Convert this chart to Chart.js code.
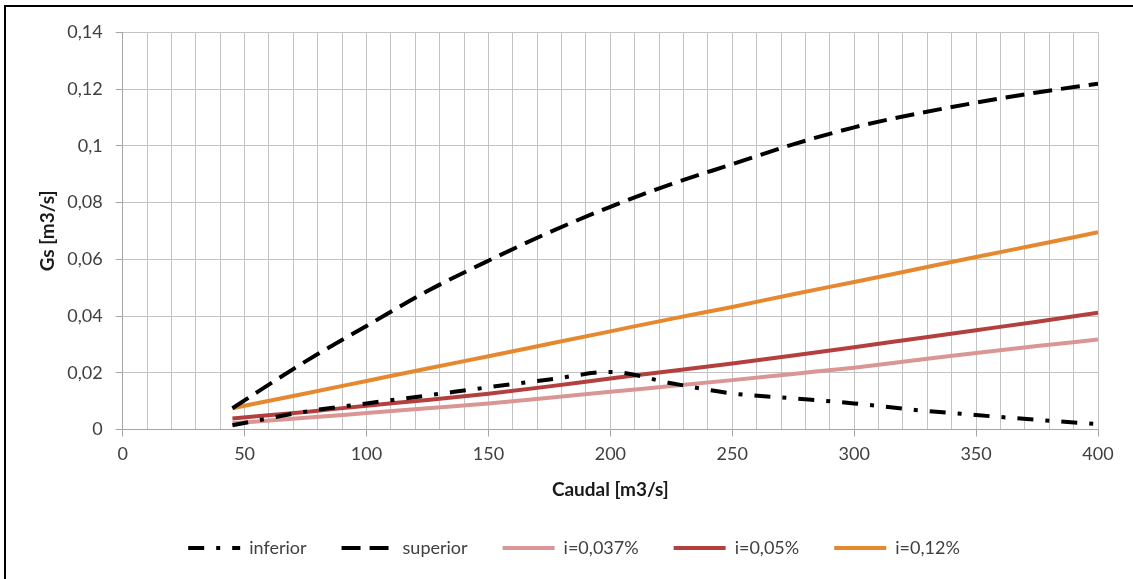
<!DOCTYPE html>
<html>
<head>
<meta charset="utf-8">
<script src="https://cdn.jsdelivr.net/npm/chart.js@4"></script>
<style>
  html, body { margin: 0; padding: 0; background: #fff; overflow: hidden; }
  #frame {
    position: absolute;
    left: 4px;
    top: 5px;
    border: 2px solid #000;
  }
  #gsChart { display: block; }
</style>
</head>
<body>
<div id="frame">
  <canvas id="gsChart" width="1136" height="590" style="width:1136px;height:590px"></canvas>
</div>
<script>
// Caudal [m3/s]
const caudal = [45, 75, 100, 125, 150, 175, 200, 225, 250, 275, 300, 325, 350, 375, 400];

// Gs [m3/s] for each curve
const inferior = [0.0015, 0.0063, 0.0092, 0.0120, 0.0149, 0.0176, 0.0203, 0.0163, 0.0127, 0.0110, 0.0092, 0.0069, 0.0051, 0.0034, 0.0019];
const superior = [0.0075, 0.0240, 0.0365, 0.0488, 0.0595, 0.0695, 0.0785, 0.0865, 0.0935, 0.1005, 0.1065, 0.1112, 0.1152, 0.1188, 0.1219];
const i037 = [0.0022, 0.0041, 0.0058, 0.0075, 0.0092, 0.0112, 0.0133, 0.0153, 0.0174, 0.0196, 0.0218, 0.0244, 0.0270, 0.0294, 0.0317];
const i05 = [0.0039, 0.0062, 0.0084, 0.0104, 0.0126, 0.0152, 0.0180, 0.0206, 0.0233, 0.0261, 0.0290, 0.0320, 0.0350, 0.0380, 0.0412];
const i12 = [0.0075, 0.0127, 0.0171, 0.0215, 0.0258, 0.0302, 0.0346, 0.0390, 0.0432, 0.0477, 0.0520, 0.0564, 0.0608, 0.0651, 0.0695];

const xTicks = { min: 0, max: 400, step: 10, labelEvery: 50 };
const yTicks = { min: 0, max: 0.14, step: 0.02 };

const FONT = "Lato, 'Open Sans', sans-serif";
const GRID = "#c3c3c3";
const AXIS = "#a6a6a6";

function points(values) {
  return values.map((v, i) => ({ x: caudal[i], y: v }));
}

function series(label, values, color, dash) {
  return {
    label: label,
    data: points(values),
    borderColor: color,
    backgroundColor: color,
    borderWidth: 4,
    borderDash: dash,
    borderCapStyle: "butt",
    borderJoinStyle: "round",
    pointRadius: 0,
    pointHoverRadius: 0,
    cubicInterpolationMode: "monotone",
    fill: false,
  };
}

const datasets = [
  series("inferior", inferior, "#000000", [16, 12, 4, 12]),
  series("superior", superior, "#000000", [19, 9]),
  series("i=0,037%", i037, "#d99694", []),
  series("i=0,05%", i05, "#b3403e", []),
  series("i=0,12%", i12, "#e6882f", []),
];

new Chart(document.getElementById("gsChart"), {
  type: "line",
  data: { datasets: datasets },
  options: {
    responsive: false,
    devicePixelRatio: 1,
    animation: false,
    events: [],
    layout: { padding: { top: 25.3, left: 0, right: 0, bottom: 30 } },
    plugins: {
      tooltip: { enabled: false },
      legend: {
        position: "bottom",
        labels: {
          usePointStyle: true,
          pointStyleWidth: 52,
          padding: 35,
          color: "#404040",
          font: { family: FONT, size: 18 },
          generateLabels: (chart) =>
            chart.data.datasets.map((ds, i) => ({
              text: ds.label,
              datasetIndex: i,
              hidden: false,
              fillStyle: ds.borderColor,
              strokeStyle: ds.borderColor,
              lineWidth: 4,
              lineDash: ds.borderDash,
              lineCap: "butt",
              pointStyle: "line",
              fontColor: "#404040",
            })),
        },
      },
    },
    scales: {
      x: {
        type: "linear",
        min: xTicks.min,
        max: xTicks.max,
        afterFit: (scale) => { scale.height = 74.5; },
        border: { color: AXIS, width: 1 },
        grid: {
          color: GRID,
          lineWidth: 1,
          tickLength: 7,
          tickColor: (ctx) => (ctx.tick && ctx.tick.value % xTicks.labelEvery === 0 ? AXIS : "rgba(0,0,0,0)"),
        },
        ticks: {
          stepSize: xTicks.step,
          autoSkip: false,
          maxRotation: 0,
          minRotation: 0,
          padding: 7,
          color: "#404040",
          font: { family: FONT, size: 18 },
          callback: (v) => (v % xTicks.labelEvery === 0 ? String(v) : ""),
        },
        title: {
          display: true,
          text: "Caudal [m3/s]",
          color: "#1a1a1a",
          font: { family: FONT, size: 19, weight: "bold" },
          padding: { top: 0, bottom: 3 },
        },
      },
      y: {
        min: yTicks.min,
        max: yTicks.max,
        afterFit: (scale) => { scale.width = 116.7; },
        border: { color: AXIS, width: 1 },
        grid: { color: GRID, lineWidth: 1, tickLength: 7, tickColor: AXIS },
        ticks: {
          stepSize: yTicks.step,
          padding: 13,
          color: "#404040",
          font: { family: FONT, size: 18 },
          callback: (v) => String(Number(v.toFixed(2))).replace(".", ","),
        },
        title: {
          display: true,
          text: "Gs [m3/s]",
          color: "#1a1a1a",
          font: { family: FONT, size: 19, weight: "bold" },
          padding: { top: 30, bottom: 0 },
        },
      },
      // empty right-hand axis, only reserves space beside the plot
      yr: {
        position: "right",
        display: true,
        afterFit: (scale) => { scale.width = 44; },
        grid: { display: false },
        border: { display: false },
        ticks: { display: false },
      },
    },
  },
});
</script>
</body>
</html>
